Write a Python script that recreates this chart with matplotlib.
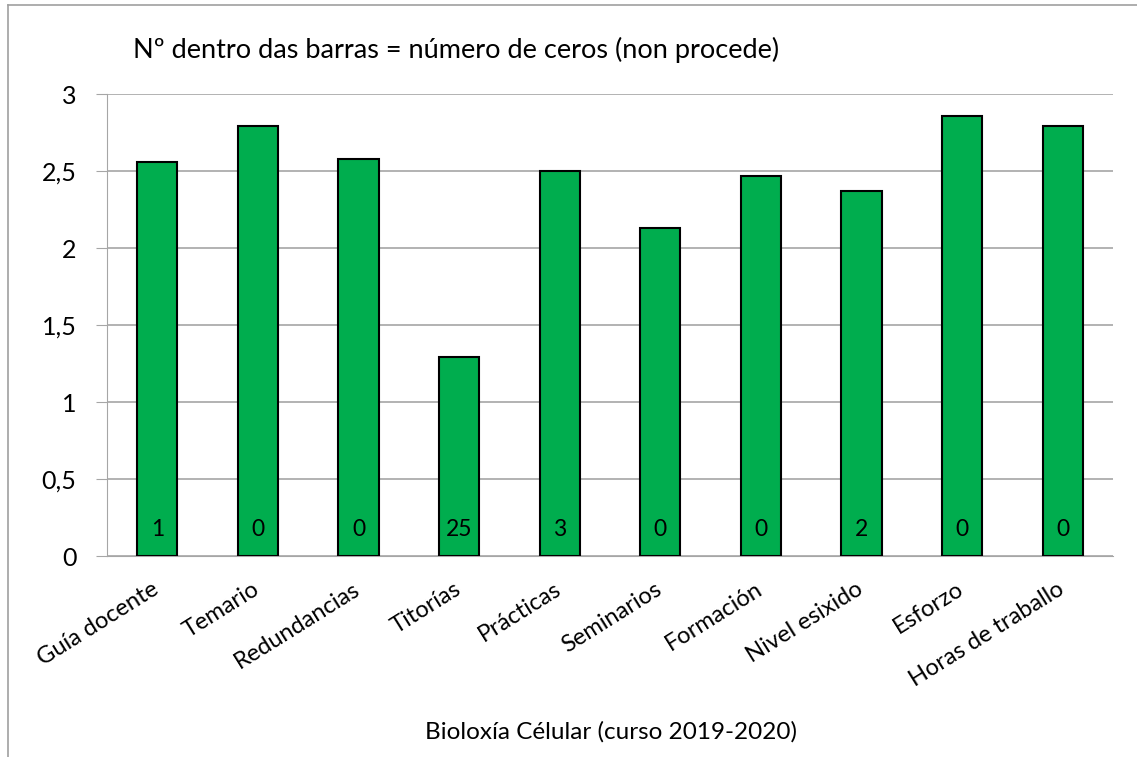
import matplotlib
matplotlib.use("Agg")
import matplotlib.pyplot as plt
import matplotlib.transforms as mtransforms
from matplotlib.lines import Line2D

# Data
categorias = ["Guía docente", "Temario", "Redundancias", "Titorías", "Prácticas",
              "Seminarios", "Formación", "Nivel esixido", "Esforzo", "Horas de traballo"]
medias = [2.56, 2.79, 2.58, 1.29, 2.50, 2.13, 2.47, 2.37, 2.86, 2.79]
ceros = [1, 0, 0, 25, 3, 0, 0, 2, 0, 0]
yticks = [0, 0.5, 1, 1.5, 2, 2.5, 3]
ytick_labels = ["0", "0,5", "1", "1,5", "2", "2,5", "3"]

plt.rcParams["font.family"] = ["Lato", "DejaVu Sans"]

W, H = 1137, 757
fig = plt.figure(figsize=(W / 100, H / 100), dpi=100)
ax = fig.add_axes([107 / W, 1 - 556 / H, (1113 - 107) / W, (556 - 94) / H])

x = range(len(categorias))
ax.bar(x, medias, width=0.4, color="#00AD4E", edgecolor="black", linewidth=1.5, zorder=3)

for i, n in enumerate(ceros):
    ax.text(i, 0.17, str(n), ha="center", va="center", fontsize=16.5, color="black", zorder=4)

ax.set_xlim(-0.5, len(categorias) - 0.5)
ax.set_ylim(0, 3)
ax.set_yticks(yticks)
ax.set_yticklabels(ytick_labels, fontsize=18)
ax.set_xticks(list(x))
ax.set_xticklabels(categorias, fontsize=17, rotation=32, ha="right", va="top",
                   rotation_mode="anchor")
ax.tick_params(axis="x", length=0, pad=16)
ax.tick_params(axis="y", length=8, color="#a6a6a6", pad=14)
# small left shift so the label ends sit under the bars, like the reference
shift = mtransforms.ScaledTranslation(-6 / 100, 0, fig.dpi_scale_trans)
for lab in ax.get_xticklabels():
    lab.set_transform(lab.get_transform() + shift)

ax.grid(axis="y", color="#a6a6a6", linewidth=1.2, zorder=0)
for s in ["top", "right"]:
    ax.spines[s].set_visible(False)
ax.spines["left"].set_color("#a6a6a6")
ax.spines["bottom"].set_color("#a6a6a6")

fig.text(133 / W, 1 - 50 / H, "Nº dentro das barras = número de ceros (non procede)",
         fontsize=19.5, va="center", ha="left")
fig.text(611 / W, 1 - 732 / H, "Bioloxía Célular (curso 2019-2020)",
         fontsize=17.5, va="center", ha="center")

# chart area frame (only top and left visible in the reference)
fig.add_artist(Line2D([8 / W, 1], [1 - 4.5 / H, 1 - 4.5 / H], color="#a0a0a0", linewidth=1.2))
fig.add_artist(Line2D([8 / W, 8 / W], [0, 1 - 4.5 / H], color="#a0a0a0", linewidth=1.2))

fig.savefig("out.png", dpi=100)
